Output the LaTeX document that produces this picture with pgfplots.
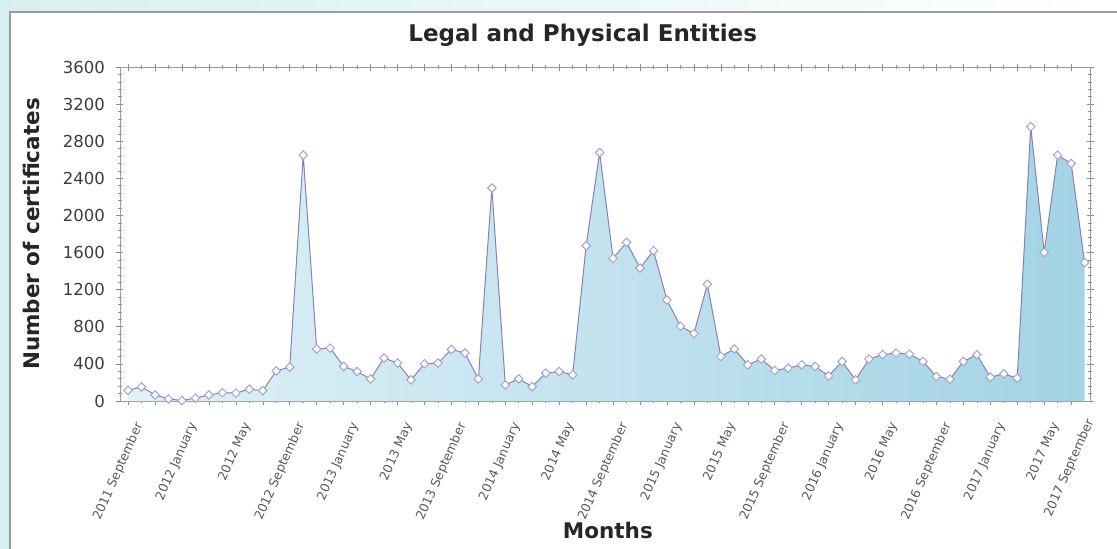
\documentclass[border=0pt]{standalone}
\usepackage{pgfplots}
\pgfplotsset{compat=1.18}
\usepackage{pgfplotstable}
\usepackage{fontspec}
\setmainfont{DejaVu Sans}
\definecolor{linecol}{HTML}{8482B6}
\definecolor{markcol}{HTML}{A2A4CC}
\definecolor{fillA}{HTML}{E0F1F7}
\definecolor{fillB}{HTML}{A3D3E5}
\definecolor{bgcyan}{HTML}{D6F0F1}
\definecolor{framecol}{HTML}{9C9C9C}
\definecolor{axiscol}{HTML}{7F8F9C}
\definecolor{ticklab}{HTML}{3C3C3C}
\definecolor{xticklab}{HTML}{5A5A5A}

\pgfplotstableread{
x y
0 115
1 152
2 65
3 22
4 5
5 32
6 65
7 90
8 85
9 127
10 112
11 325
12 365
13 2650
14 560
15 570
16 372
17 318
18 238
19 463
20 409
21 228
22 401
23 409
24 555
25 517
26 238
27 2296
28 173
29 238
30 155
31 300
32 318
33 282
34 1674
35 2679
36 1537
37 1710
38 1432
39 1620
40 1088
41 806
42 727
43 1258
44 481
45 560
46 390
47 452
48 329
49 355
50 390
51 372
52 271
53 426
54 228
55 452
56 499
57 517
58 506
59 426
60 264
61 235
62 426
63 499
64 257
65 293
66 246
67 2958
68 1602
69 2650
70 2560
71 1493
}\certs

\begin{document}
\begin{tikzpicture}[x=1pt,y=1pt]
\useasboundingbox (-120,-148) rectangle (997,401);
\shade[left color=bgcyan, right color=white] (-120,-148) rectangle (997,401);
\fill[white] (-110,-148) rectangle (997,389);
\draw[framecol, line width=1.2pt] (-110,-148) -- (-110,389) -- (997,389);
\begin{axis}[
  anchor=south west,
  scale only axis, width=970pt, height=334pt,
  xmin=-0.6, xmax=71.4, ymin=0, ymax=3600,
  clip=false,
  axis line style={framecol, line width=0.8pt},
  every tick/.style={axiscol, line width=0.6pt},
  tick align=center,
  major tick length=7pt, minor tick length=4pt,
  ytick={0,400,...,3600}, minor y tick num=4,
  xtick={0,2,...,70}, minor x tick num=1,
  xticklabels={2011 September,,2012 January,,2012 May,,2012 September,,2013 January,,2013 May,,2013 September,,2014 January,,2014 May,,2014 September,,2015 January,,2015 May,,2015 September,,2016 January,,2016 May,,2016 September,,2017 January,,2017 May,},
  extra x ticks={70.6}, extra x tick labels={2017 September},
  extra x tick style={major tick length=0pt},
  /pgf/number format/assume math mode=true,
  /pgf/number format/1000 sep={},
  yticklabel style={font=\fontsize{16.5}{18}\selectfont, text=ticklab, xshift=-8pt},
  xticklabel style={font=\fontsize{12.5}{14}\selectfont, text=xticklab, xshift=13pt, yshift=-16pt, rotate=66, anchor=east},
  title={Legal and Physical Entities},
  title style={font=\bfseries\fontsize{23}{26}\selectfont, text=black!85, at={(axis description cs:0.477,1.078)}, anchor=center},
  xlabel={Months},
  xlabel style={font=\bfseries\fontsize{21.5}{24}\selectfont, text=black!85, at={(axis description cs:0.503,-0.389)}, anchor=center},
  ylabel={Number of certificates},
  ylabel style={font=\bfseries\fontsize{21.5}{24}\selectfont, text=black!85, at={(axis description cs:-0.091,0.5)}, anchor=center},
]
\addplot[draw=none, left color=fillA, right color=fillB] table[x=x,y=y] {\certs} \closedcycle;
\addplot[linecol, line width=1pt, mark=square*, mark size=3pt,
  mark options={rotate=45, fill=white, draw=markcol, line width=1pt}] table[x=x,y=y] {\certs};
\end{axis}
\end{tikzpicture}
\end{document}
